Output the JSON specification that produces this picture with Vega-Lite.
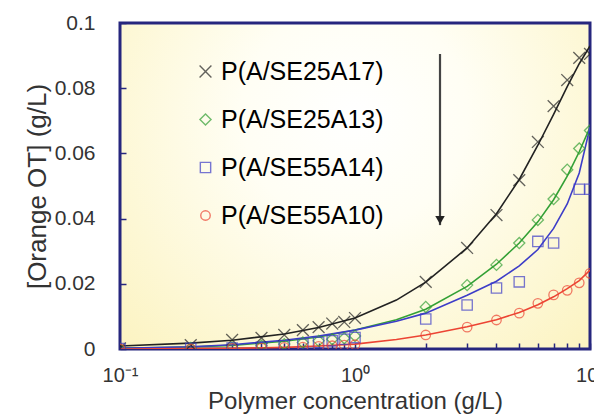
{
  "$schema": "https://vega.github.io/schema/vega-lite/v6.json",
  "width": 470,
  "height": 326,
  "autosize": {"type": "none"},
  "padding": {"left": 120, "top": 23, "right": 4, "bottom": 69},
  "background": "#ffffff",
  "config": {
    "font": "Liberation Sans",
    "view": {
      "stroke": "#26267e",
      "strokeWidth": 3,
      "fill": {
        "gradient": "radial",
        "x1": 0.5, "y1": 0.35, "r1": 0,
        "x2": 0.5, "y2": 0.35, "r2": 0.8,
        "stops": [
          {"offset": 0, "color": "#ffffff"},
          {"offset": 0.3, "color": "#fffef4"},
          {"offset": 1, "color": "#fbf1b6"}
        ]
      }
    }
  },
  "datasets": {
    "pts": [
      {"s": "P(A/SE25A17)", "x": 0.1, "y": 0.0002},
      {"s": "P(A/SE25A17)", "x": 0.2, "y": 0.0012},
      {"s": "P(A/SE25A17)", "x": 0.3, "y": 0.0028},
      {"s": "P(A/SE25A17)", "x": 0.4, "y": 0.0034},
      {"s": "P(A/SE25A17)", "x": 0.5, "y": 0.0043},
      {"s": "P(A/SE25A17)", "x": 0.6, "y": 0.0058},
      {"s": "P(A/SE25A17)", "x": 0.7, "y": 0.0067},
      {"s": "P(A/SE25A17)", "x": 0.8, "y": 0.0078},
      {"s": "P(A/SE25A17)", "x": 0.9, "y": 0.0083},
      {"s": "P(A/SE25A17)", "x": 1.0, "y": 0.0095},
      {"s": "P(A/SE25A17)", "x": 2, "y": 0.0206},
      {"s": "P(A/SE25A17)", "x": 3, "y": 0.031},
      {"s": "P(A/SE25A17)", "x": 4, "y": 0.0411},
      {"s": "P(A/SE25A17)", "x": 5, "y": 0.0518},
      {"s": "P(A/SE25A17)", "x": 6, "y": 0.0635},
      {"s": "P(A/SE25A17)", "x": 7, "y": 0.0745},
      {"s": "P(A/SE25A17)", "x": 8, "y": 0.0825},
      {"s": "P(A/SE25A17)", "x": 9, "y": 0.0893},
      {"s": "P(A/SE25A17)", "x": 10, "y": 0.0905},
      {"s": "P(A/SE25A13)", "x": 0.1, "y": 0.0001},
      {"s": "P(A/SE25A13)", "x": 0.2, "y": 0.0003},
      {"s": "P(A/SE25A13)", "x": 0.3, "y": 0.0005},
      {"s": "P(A/SE25A13)", "x": 0.4, "y": 0.001},
      {"s": "P(A/SE25A13)", "x": 0.5, "y": 0.0015},
      {"s": "P(A/SE25A13)", "x": 0.6, "y": 0.002},
      {"s": "P(A/SE25A13)", "x": 0.7, "y": 0.0025},
      {"s": "P(A/SE25A13)", "x": 0.8, "y": 0.003},
      {"s": "P(A/SE25A13)", "x": 0.9, "y": 0.0033},
      {"s": "P(A/SE25A13)", "x": 1.0, "y": 0.004},
      {"s": "P(A/SE25A13)", "x": 2, "y": 0.0129},
      {"s": "P(A/SE25A13)", "x": 3, "y": 0.0196},
      {"s": "P(A/SE25A13)", "x": 4, "y": 0.0258},
      {"s": "P(A/SE25A13)", "x": 5, "y": 0.0325},
      {"s": "P(A/SE25A13)", "x": 6, "y": 0.0396},
      {"s": "P(A/SE25A13)", "x": 7, "y": 0.046},
      {"s": "P(A/SE25A13)", "x": 8, "y": 0.055},
      {"s": "P(A/SE25A13)", "x": 9, "y": 0.0615},
      {"s": "P(A/SE25A13)", "x": 10, "y": 0.067},
      {"s": "P(A/SE55A14)", "x": 0.1, "y": 0.0001},
      {"s": "P(A/SE55A14)", "x": 0.2, "y": 0.0002},
      {"s": "P(A/SE55A14)", "x": 0.3, "y": 0.0003},
      {"s": "P(A/SE55A14)", "x": 0.4, "y": 0.0005},
      {"s": "P(A/SE55A14)", "x": 0.5, "y": 0.001},
      {"s": "P(A/SE55A14)", "x": 0.6, "y": 0.0015},
      {"s": "P(A/SE55A14)", "x": 0.7, "y": 0.002},
      {"s": "P(A/SE55A14)", "x": 0.8, "y": 0.0025},
      {"s": "P(A/SE55A14)", "x": 0.9, "y": 0.003},
      {"s": "P(A/SE55A14)", "x": 1.0, "y": 0.0035},
      {"s": "P(A/SE55A14)", "x": 2, "y": 0.0092},
      {"s": "P(A/SE55A14)", "x": 3, "y": 0.0135},
      {"s": "P(A/SE55A14)", "x": 4, "y": 0.0187},
      {"s": "P(A/SE55A14)", "x": 5, "y": 0.0206},
      {"s": "P(A/SE55A14)", "x": 6, "y": 0.033},
      {"s": "P(A/SE55A14)", "x": 7, "y": 0.0325},
      {"s": "P(A/SE55A14)", "x": 9, "y": 0.049},
      {"s": "P(A/SE55A14)", "x": 10, "y": 0.049},
      {"s": "P(A/SE55A10)", "x": 0.1, "y": 0.0},
      {"s": "P(A/SE55A10)", "x": 0.2, "y": 0.0},
      {"s": "P(A/SE55A10)", "x": 0.3, "y": 0.0002},
      {"s": "P(A/SE55A10)", "x": 0.4, "y": 0.0003},
      {"s": "P(A/SE55A10)", "x": 0.5, "y": 0.0005},
      {"s": "P(A/SE55A10)", "x": 0.6, "y": 0.0006},
      {"s": "P(A/SE55A10)", "x": 0.7, "y": 0.0008},
      {"s": "P(A/SE55A10)", "x": 0.8, "y": 0.001},
      {"s": "P(A/SE55A10)", "x": 0.9, "y": 0.0012},
      {"s": "P(A/SE55A10)", "x": 1.0, "y": 0.0013},
      {"s": "P(A/SE55A10)", "x": 2, "y": 0.0043},
      {"s": "P(A/SE55A10)", "x": 3, "y": 0.0067},
      {"s": "P(A/SE55A10)", "x": 4, "y": 0.0089},
      {"s": "P(A/SE55A10)", "x": 5, "y": 0.011},
      {"s": "P(A/SE55A10)", "x": 6, "y": 0.014},
      {"s": "P(A/SE55A10)", "x": 7, "y": 0.0166},
      {"s": "P(A/SE55A10)", "x": 8, "y": 0.018},
      {"s": "P(A/SE55A10)", "x": 9, "y": 0.0203},
      {"s": "P(A/SE55A10)", "x": 10, "y": 0.0232}
    ],
    "fit": [
      {"s": "P(A/SE25A17)", "x": 0.1, "y": 0.0009},
      {"s": "P(A/SE25A17)", "x": 0.2, "y": 0.0018},
      {"s": "P(A/SE25A17)", "x": 0.3, "y": 0.0027},
      {"s": "P(A/SE25A17)", "x": 0.5, "y": 0.0046},
      {"s": "P(A/SE25A17)", "x": 0.7, "y": 0.0066},
      {"s": "P(A/SE25A17)", "x": 1, "y": 0.0095},
      {"s": "P(A/SE25A17)", "x": 1.5, "y": 0.015},
      {"s": "P(A/SE25A17)", "x": 2, "y": 0.0205},
      {"s": "P(A/SE25A17)", "x": 3, "y": 0.031},
      {"s": "P(A/SE25A17)", "x": 4, "y": 0.0415},
      {"s": "P(A/SE25A17)", "x": 5, "y": 0.052},
      {"s": "P(A/SE25A17)", "x": 6, "y": 0.0625},
      {"s": "P(A/SE25A17)", "x": 7, "y": 0.072},
      {"s": "P(A/SE25A17)", "x": 8, "y": 0.0805},
      {"s": "P(A/SE25A17)", "x": 9, "y": 0.0875},
      {"s": "P(A/SE25A17)", "x": 10, "y": 0.093},
      {"s": "P(A/SE25A13)", "x": 0.1, "y": 0.0002},
      {"s": "P(A/SE25A13)", "x": 0.2, "y": 0.0006},
      {"s": "P(A/SE25A13)", "x": 0.3, "y": 0.0011},
      {"s": "P(A/SE25A13)", "x": 0.5, "y": 0.0024},
      {"s": "P(A/SE25A13)", "x": 0.7, "y": 0.0037},
      {"s": "P(A/SE25A13)", "x": 1, "y": 0.0058},
      {"s": "P(A/SE25A13)", "x": 1.5, "y": 0.009},
      {"s": "P(A/SE25A13)", "x": 2, "y": 0.0122},
      {"s": "P(A/SE25A13)", "x": 3, "y": 0.0192},
      {"s": "P(A/SE25A13)", "x": 4, "y": 0.026},
      {"s": "P(A/SE25A13)", "x": 5, "y": 0.0325},
      {"s": "P(A/SE25A13)", "x": 6, "y": 0.039},
      {"s": "P(A/SE25A13)", "x": 7, "y": 0.0458},
      {"s": "P(A/SE25A13)", "x": 8, "y": 0.053},
      {"s": "P(A/SE25A13)", "x": 9, "y": 0.0605},
      {"s": "P(A/SE25A13)", "x": 10, "y": 0.068},
      {"s": "P(A/SE55A14)", "x": 0.1, "y": 0.0002},
      {"s": "P(A/SE55A14)", "x": 0.2, "y": 0.0007},
      {"s": "P(A/SE55A14)", "x": 0.3, "y": 0.0013},
      {"s": "P(A/SE55A14)", "x": 0.5, "y": 0.0027},
      {"s": "P(A/SE55A14)", "x": 0.7, "y": 0.004},
      {"s": "P(A/SE55A14)", "x": 1, "y": 0.0058},
      {"s": "P(A/SE55A14)", "x": 1.5, "y": 0.0085},
      {"s": "P(A/SE55A14)", "x": 2, "y": 0.011},
      {"s": "P(A/SE55A14)", "x": 3, "y": 0.0165},
      {"s": "P(A/SE55A14)", "x": 4, "y": 0.0208},
      {"s": "P(A/SE55A14)", "x": 5, "y": 0.0255},
      {"s": "P(A/SE55A14)", "x": 6, "y": 0.0305},
      {"s": "P(A/SE55A14)", "x": 7, "y": 0.037},
      {"s": "P(A/SE55A14)", "x": 8, "y": 0.0445},
      {"s": "P(A/SE55A14)", "x": 9, "y": 0.054},
      {"s": "P(A/SE55A14)", "x": 10, "y": 0.068},
      {"s": "P(A/SE55A10)", "x": 0.1, "y": 0.0},
      {"s": "P(A/SE55A10)", "x": 0.3, "y": 0.0002},
      {"s": "P(A/SE55A10)", "x": 0.5, "y": 0.0005},
      {"s": "P(A/SE55A10)", "x": 0.7, "y": 0.0009},
      {"s": "P(A/SE55A10)", "x": 1, "y": 0.0015},
      {"s": "P(A/SE55A10)", "x": 1.5, "y": 0.0029},
      {"s": "P(A/SE55A10)", "x": 2, "y": 0.0043},
      {"s": "P(A/SE55A10)", "x": 3, "y": 0.0068},
      {"s": "P(A/SE55A10)", "x": 4, "y": 0.009},
      {"s": "P(A/SE55A10)", "x": 5, "y": 0.0112},
      {"s": "P(A/SE55A10)", "x": 6, "y": 0.0136},
      {"s": "P(A/SE55A10)", "x": 7, "y": 0.016},
      {"s": "P(A/SE55A10)", "x": 8, "y": 0.0185},
      {"s": "P(A/SE55A10)", "x": 9, "y": 0.021},
      {"s": "P(A/SE55A10)", "x": 10, "y": 0.0242}
    ],
    "arrow": [{"x": 2.3, "ytop": 0.0905, "ybot": 0.038, "yhead": 0.0395}]
  },
  "layer": [
    {
      "data": {"name": "fit"},
      "mark": {"type": "line", "strokeWidth": 1.6, "clip": true},
      "encoding": {
        "x": {
          "field": "x", "type": "quantitative",
          "scale": {"type": "log", "domain": [0.1, 10], "nice": false},
          "axis": {
            "values": [0.1, 0.2, 0.3, 0.4, 0.5, 0.6, 0.7, 0.8, 0.9, 1, 2, 3, 4, 5, 6, 7, 8, 9, 10],
            "labelExpr": "datum.value == 0.1 ? '10⁻¹' : (datum.value == 1 ? '10⁰' : (datum.value == 10 ? '10¹' : ''))",
            "labelOverlap": false,
            "labelBound": false,
            "labelFlush": false,
            "domain": false,
            "grid": false,
            "tickSize": -6,
            "tickWidth": 1.5,
            "tickColor": "#26267e",
            "labelFontSize": 20,
            "labelColor": "#333333",
            "labelPadding": 22,
            "title": "Polymer concentration (g/L)",
            "titleFontSize": 24,
            "titleFontWeight": "normal",
            "titleColor": "#333333",
            "titlePadding": 4
          }
        },
        "y": {
          "field": "y", "type": "quantitative",
          "scale": {"domain": [0, 0.1], "nice": false},
          "axis": {
            "values": [0, 0.0025, 0.005, 0.0075, 0.01, 0.0125, 0.015, 0.0175, 0.02, 0.0225, 0.025, 0.0275, 0.03, 0.0325, 0.035, 0.0375, 0.04, 0.0425, 0.045, 0.0475, 0.05, 0.0525, 0.055, 0.0575, 0.06, 0.0625, 0.065, 0.0675, 0.07, 0.0725, 0.075, 0.0775, 0.08, 0.0825, 0.085, 0.0875, 0.09, 0.0925, 0.095, 0.0975, 0.1],
            "labelExpr": "indexof([0, 0.02, 0.04, 0.06, 0.08, 0.1], datum.value) >= 0 ? '' + datum.value : ''",
            "labelOverlap": false,
            "labelBound": false,
            "labelFlush": false,
            "domain": false,
            "grid": false,
            "tickSize": -6,
            "tickWidth": 1.5,
            "tickColor": "#26267e",
            "labelFontSize": 21,
            "labelColor": "#333333",
            "labelPadding": 31,
            "title": "[Orange OT] (g/L)",
            "titleFontSize": 26,
            "titleFontWeight": "normal",
            "titleColor": "#333333",
            "titlePadding": 4
          }
        },
        "color": {"field": "s", "type": "nominal"}
      }
    },
    {
      "data": {"name": "pts"},
      "mark": {"type": "point", "filled": false, "strokeWidth": 1.3, "clip": true},
      "encoding": {
        "x": {"field": "x", "type": "quantitative"},
        "y": {"field": "y", "type": "quantitative"},
        "color": {
          "field": "s", "type": "nominal",
          "scale": {
            "domain": ["P(A/SE25A17)", "P(A/SE25A13)", "P(A/SE55A14)", "P(A/SE55A10)"],
            "range": ["#222222", "#33a035", "#3d3dc8", "#ec4433"]
          },
          "legend": {
            "orient": "none",
            "legendX": 73,
            "legendY": 36,
            "title": null,
            "padding": 0,
            "labelFontSize": 25,
            "labelOffset": 3,
            "symbolStrokeWidth": 1.4,
            "rowPadding": 22,
            "labelLimit": 400,
            "encode": {
              "labels": {
                "update": {
                  "fill": {"signal": "datum.label == 'P(A/SE25A17)' ? '#111111' : (datum.label == 'P(A/SE25A13)' ? '#2e9e3a' : (datum.label == 'P(A/SE55A14)' ? '#3434c4' : '#e23c3c'))"}
                }
              }
            }
          }
        },
        "shape": {
          "field": "s", "type": "nominal",
          "scale": {
            "domain": ["P(A/SE25A17)", "P(A/SE25A13)", "P(A/SE55A14)", "P(A/SE55A10)"],
            "range": ["M-1,-1L1,1M-1,1L1,-1", "diamond", "square", "circle"]
          }
        },
        "size": {
          "field": "s", "type": "nominal",
          "scale": {
            "domain": ["P(A/SE25A17)", "P(A/SE25A13)", "P(A/SE55A14)", "P(A/SE55A10)"],
            "range": [140, 90, 180, 120]
          }
        }
      }
    },
    {
      "data": {"name": "arrow"},
      "mark": {"type": "rule", "color": "#444444", "strokeWidth": 2.2},
      "encoding": {
        "x": {"field": "x", "type": "quantitative"},
        "y": {"field": "ytop", "type": "quantitative"},
        "y2": {"field": "ybot"}
      }
    },
    {
      "data": {"name": "arrow"},
      "mark": {"type": "point", "shape": "triangle-down", "filled": true, "color": "#222222", "size": 90, "opacity": 1},
      "encoding": {
        "x": {"field": "x", "type": "quantitative"},
        "y": {"field": "yhead", "type": "quantitative"}
      }
    }
  ]
}
